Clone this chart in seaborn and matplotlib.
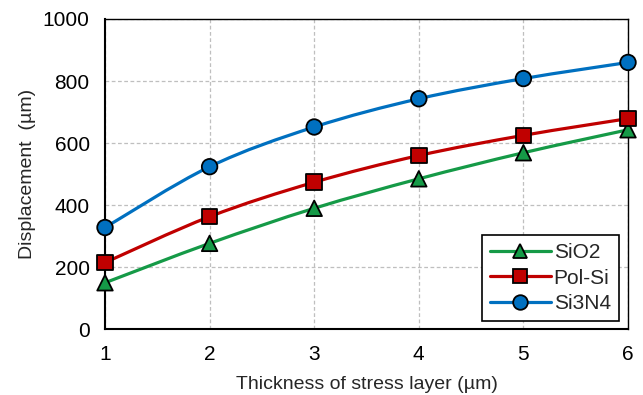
import numpy as np
import pandas as pd
import seaborn as sns
import matplotlib.pyplot as plt
from matplotlib.path import Path
from matplotlib.patches import PathPatch
from matplotlib.lines import Line2D

# data
thickness = [1, 2, 3, 4, 5, 6]
sio2 = [150, 277, 390, 485, 569, 643]
polsi = [215, 363, 474, 560, 625, 679]
si3n4 = [328, 524, 652, 743, 808, 860]

series = ['SiO2', 'Pol-Si', 'Si3N4']
colors = {'SiO2': '#159A47', 'Pol-Si': '#C00000', 'Si3N4': '#0070C0'}
markers = {'SiO2': '^', 'Pol-Si': 's', 'Si3N4': 'o'}

df = pd.DataFrame({'thickness': thickness * 3,
                   'disp': sio2 + polsi + si3n4,
                   'material': sum([[s] * len(thickness) for s in series], [])})

sns.set_style('white')
plt.rcParams['font.family'] = ['Liberation Sans', 'DejaVu Sans']

fig = plt.figure(figsize=(6.43, 3.95), dpi=100)
ax = fig.add_axes([0.1633, 0.1663, 0.8134, 0.7856])


# smooth line like excel: cubic bezier through the points
def smooth_path(xs, ys):
    pts = np.column_stack([xs, ys]).astype(float)
    n = len(pts)
    verts = [pts[0]]
    codes = [Path.MOVETO]
    for i in range(n - 1):
        p0 = pts[i - 1] if i > 0 else pts[i]
        p1 = pts[i]
        p2 = pts[i + 1]
        p3 = pts[i + 2] if i + 2 < n else pts[i + 1]
        c1 = p1 + (p2 - p0) / 6.0
        c2 = p2 - (p3 - p1) / 6.0
        verts += [c1, c2, p2]
        codes += [Path.CURVE4] * 3
    return Path(verts, codes)


for s in series:
    sub = df[df['material'] == s]
    patch = PathPatch(smooth_path(sub['thickness'], sub['disp']), facecolor='none',
                      edgecolor=colors[s], lw=2.3, zorder=3, clip_on=False)
    ax.add_patch(patch)

sns.scatterplot(data=df, x='thickness', y='disp', hue='material', style='material',
                palette=colors, markers=markers, s=125, edgecolor='black',
                linewidth=1.3, ax=ax, zorder=4, clip_on=False, legend=False)

ax.set_xlim(1, 6)
ax.set_ylim(0, 1000)
ax.set_xticks(thickness)
ax.set_yticks(range(0, 1001, 200))
ax.grid(True, linestyle=(0, (3, 2)), color='#BFBFBF', linewidth=0.9)
ax.set_axisbelow(True)
for sp in ax.spines.values():
    sp.set_color('black')
    sp.set_linewidth(1.0)
ax.spines['left'].set_linewidth(1.5)
ax.spines['bottom'].set_linewidth(1.5)
ax.tick_params(axis='x', direction='in', length=5, width=1, labelsize=15, pad=11, colors='black')
ax.tick_params(axis='y', length=0, labelsize=15, pad=11, colors='black')

ax.set_xlabel('Thickness of stress layer (µm)', fontsize=14, labelpad=9)
ax.set_ylabel('Displacement  (µm)', fontsize=14, labelpad=5)

handles = [Line2D([], [], color=colors[s], lw=2.3, marker=markers[s], markersize=10.5,
                  markerfacecolor=colors[s], markeredgecolor='black', markeredgewidth=1.3)
           for s in series]
leg = ax.legend(handles, series, loc='lower right', fontsize=15, frameon=True, fancybox=False,
                edgecolor='black', framealpha=1, handlelength=2.9, handletextpad=0.15,
                borderpad=0.4, labelspacing=0.3, borderaxespad=0,
                bbox_to_anchor=(0.983, 0.026))
leg.get_frame().set_linewidth(1.2)

fig.savefig('out.png', dpi=100)
